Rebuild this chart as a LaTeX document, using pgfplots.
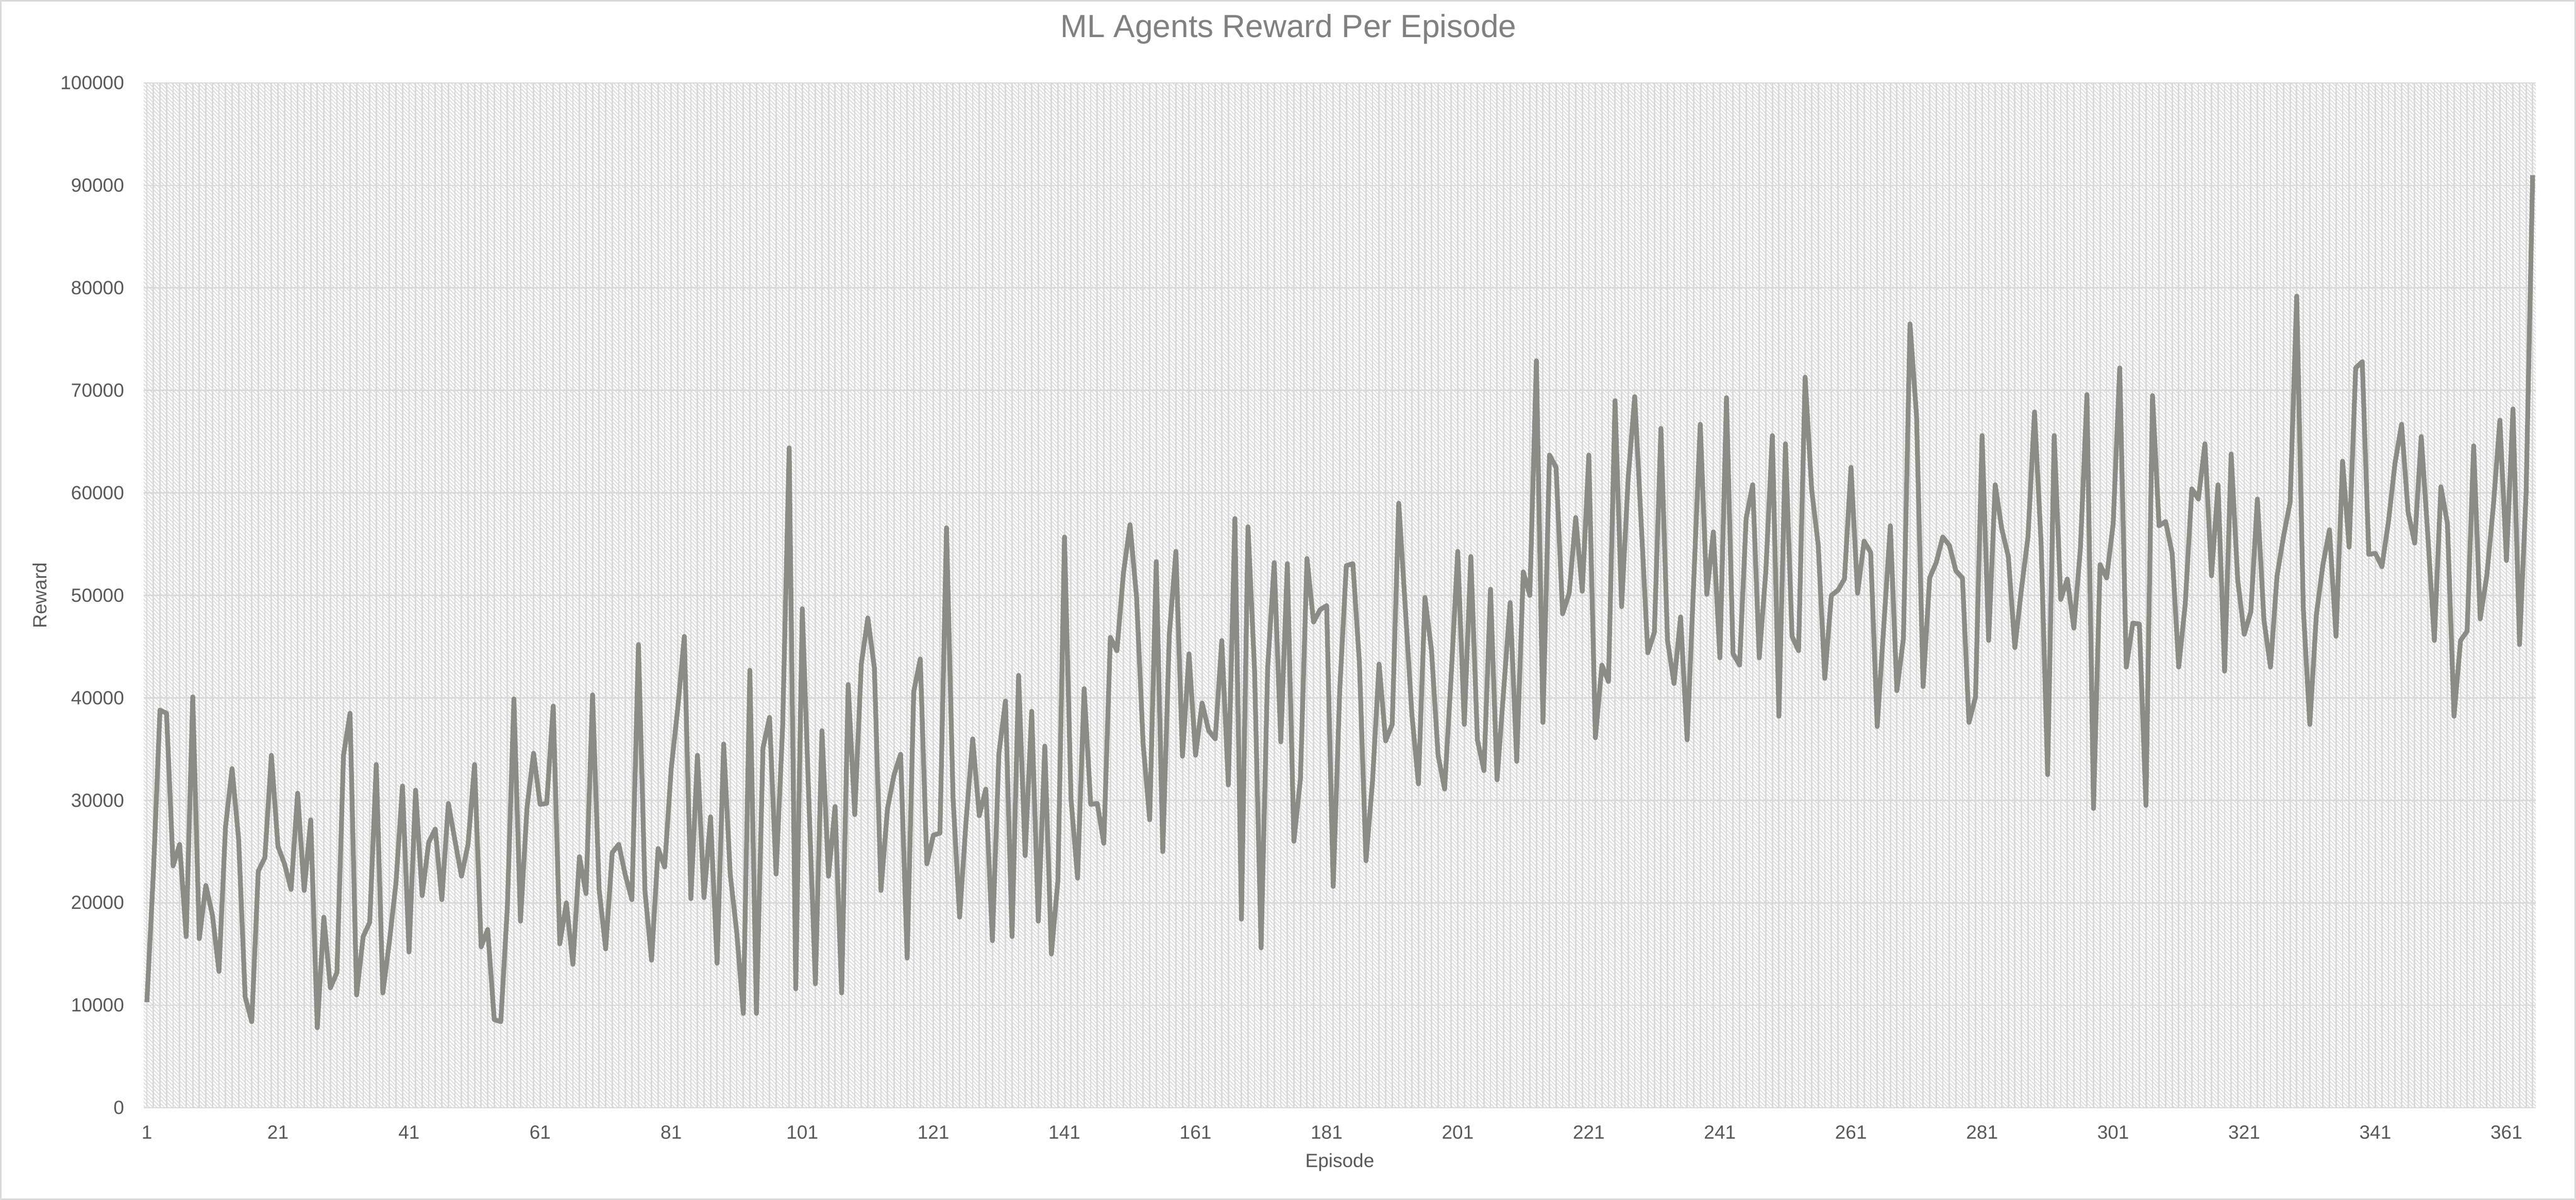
\documentclass[border=0pt]{standalone}
\usepackage{pgfplots}
\pgfplotsset{compat=1.18}
\usepackage{pgfplotstable}
\usepackage{fontspec}
\setmainfont{Liberation Sans}
\usetikzlibrary{patterns.meta}
\definecolor{linegray}{RGB}{139,140,133}
\definecolor{textgray}{RGB}{89,89,89}
\definecolor{titlegray}{RGB}{128,128,128}
\definecolor{gridgray}{RGB}{217,217,217}
\pgfplotstableread{
ep r
1 10300
2 23000
3 38800
4 38500
5 23600
6 25700
7 16700
8 40100
9 16500
10 21700
11 18800
12 13300
13 27400
14 33100
15 26200
16 10800
17 8400
18 23100
19 24400
20 34400
21 25500
22 23800
23 21300
24 30700
25 21200
26 28100
27 7800
28 18600
29 11700
30 13200
31 34400
32 38500
33 11000
34 16700
35 18100
36 33500
37 11200
38 16200
39 21900
40 31400
41 15200
42 31000
43 20700
44 25900
45 27200
46 20300
47 29700
48 26100
49 22600
50 25700
51 33500
52 15700
53 17400
54 8600
55 8400
56 19600
57 39900
58 18200
59 29300
60 34600
61 29600
62 29700
63 39200
64 16000
65 20000
66 14000
67 24500
68 20900
69 40300
70 21300
71 15500
72 24900
73 25700
74 22700
75 20300
76 45200
77 21100
78 14400
79 25300
80 23500
81 33100
82 39000
83 46000
84 20400
85 34400
86 20500
87 28400
88 14100
89 35500
90 22800
91 17100
92 9200
93 42700
94 9200
95 35100
96 38100
97 22800
98 37200
99 64400
100 11600
101 48700
102 30000
103 12100
104 36800
105 22600
106 29400
107 11200
108 41300
109 28600
110 43300
111 47800
112 42900
113 21200
114 29200
115 32500
116 34500
117 14600
118 40600
119 43800
120 23800
121 26600
122 26800
123 56600
124 30200
125 18600
126 28100
127 36000
128 28500
129 31100
130 16300
131 34600
132 39700
133 16700
134 42200
135 24600
136 38700
137 18200
138 35300
139 15000
140 22200
141 55700
142 30100
143 22400
144 40900
145 29600
146 29700
147 25800
148 45900
149 44600
150 52200
151 56900
152 49800
153 35500
154 28100
155 53300
156 25000
157 46200
158 54300
159 34300
160 44300
161 34400
162 39500
163 36800
164 36000
165 45600
166 31500
167 57500
168 18400
169 56700
170 42700
171 15600
172 42900
173 53200
174 35700
175 53100
176 26000
177 32100
178 53600
179 47400
180 48600
181 49000
182 21600
183 40800
184 52900
185 53100
186 43400
187 24100
188 31900
189 43300
190 35800
191 37400
192 59000
193 48800
194 38400
195 31600
196 49800
197 44600
198 34400
199 31100
200 42200
201 54300
202 37400
203 53800
204 35900
205 32900
206 50600
207 32000
208 40700
209 49300
210 33800
211 52300
212 50000
213 72900
214 37600
215 63700
216 62500
217 48200
218 50200
219 57600
220 50400
221 63700
222 36100
223 43200
224 41600
225 69000
226 48900
227 61400
228 69400
229 56900
230 44400
231 46400
232 66300
233 45600
234 41400
235 47900
236 35900
237 51300
238 66700
239 50100
240 56200
241 43900
242 69300
243 44300
244 43200
245 57500
246 60800
247 43900
248 52300
249 65600
250 38200
251 64800
252 46000
253 44600
254 71300
255 60300
256 54900
257 41900
258 50000
259 50500
260 51600
261 62500
262 50200
263 55300
264 54200
265 37200
266 47000
267 56800
268 40700
269 45800
270 76500
271 67500
272 41100
273 51700
274 53200
275 55700
276 54900
277 52400
278 51700
279 37600
280 40100
281 65600
282 45600
283 60800
284 56500
285 53800
286 44900
287 50600
288 55700
289 67900
290 55100
291 32500
292 65600
293 49600
294 51600
295 46800
296 54600
297 69600
298 29200
299 53000
300 51700
301 57000
302 72200
303 43000
304 47300
305 47200
306 29500
307 69500
308 56800
309 57200
310 54100
311 43000
312 49200
313 60400
314 59400
315 64800
316 51900
317 60800
318 42600
319 63800
320 51500
321 46200
322 48400
323 59400
324 47600
325 43000
326 51900
327 55800
328 59100
329 79200
330 48800
331 37400
332 48100
333 53000
334 56400
335 46000
336 63100
337 54700
338 72200
339 72800
340 54000
341 54100
342 52800
343 57200
344 62900
345 66700
346 58100
347 55100
348 65500
349 55900
350 45600
351 60600
352 57000
353 38200
354 45600
355 46500
356 64600
357 47700
358 51900
359 58700
360 67100
361 53400
362 68200
363 45200
364 60000
365 91000
}\rewards
\begin{document}
\begin{tikzpicture}
\useasboundingbox (0,0) rectangle (1350pt,628.75pt);
\draw[gridgray, line width=0.75pt] (0.375pt,0.375pt) rectangle (1349.625pt,628.375pt);
\begin{axis}[
  at={(75.25pt,48.25pt)}, anchor=south west,
  scale only axis, width=1253.75pt, height=537pt,
  xmin=0.5, xmax=365.5, ymin=0, ymax=100000,
  xtick={1,21,...,361}, minor xtick={1,...,365},
  ytick={0,10000,...,100000},
  xmajorgrids, xminorgrids, ymajorgrids,
  major grid style={gridgray, line width=0.75pt},
  minor grid style={gridgray, line width=0.75pt},
  major tick length=0pt, minor tick length=0pt,
  axis line style={draw=none},
  scaled y ticks=false,
  /pgf/number format/assume math mode=true,
  yticklabel style={/pgf/number format/fixed, /pgf/number format/1000 sep={}, font=\fontsize{10}{12}\selectfont, text=textgray, inner sep=0pt, anchor=east, xshift=-10pt},
  xticklabel style={font=\fontsize{10}{12}\selectfont, text=textgray, inner sep=0pt, anchor=north, yshift=-9.25pt},
  title={ML Agents Reward Per Episode},
  title style={at={(axis description cs:0.47856,1.03352)}, anchor=base, font=\fontsize{16.8}{20}\selectfont, text=titlegray, inner sep=0pt},
  xlabel={Episode},
  xlabel style={at={(axis description cs:0.5,-0.05819)}, anchor=base, font=\fontsize{10}{12}\selectfont, text=textgray, inner sep=0pt},
  ylabel={Reward},
  ylabel style={at={(axis description cs:-0.04347,0.5)}, anchor=center, font=\fontsize{10}{12}\selectfont, text=textgray, inner sep=0pt},
  axis background/.style={preaction={fill=white}, pattern={Lines[angle=-45,distance=1.4pt,line width=0.45pt]}, pattern color=gridgray},
]
\addplot[linegray, line width=2.5pt, line join=round, mark=none] table[x=ep,y=r]{\rewards};
\draw[gridgray, line width=0.75pt] (rel axis cs:0,0) -- (rel axis cs:1,0);
\end{axis}
\end{tikzpicture}
\end{document}
